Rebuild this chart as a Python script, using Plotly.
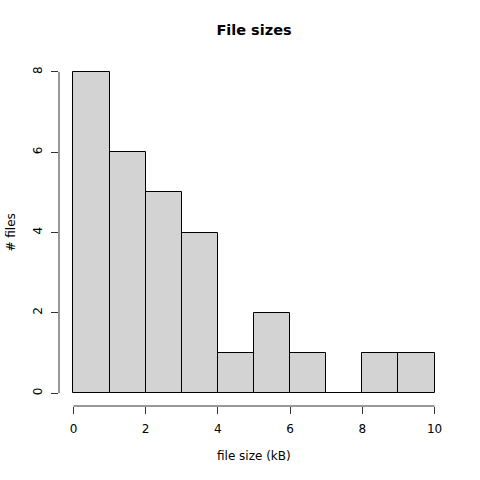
import numpy as np
import plotly.graph_objects as go

bin_edges = [0, 1, 2, 3, 4, 5, 6, 7, 8, 9, 10]
counts = [8, 6, 5, 4, 1, 2, 1, 0, 1, 1]
x_ticks = [0, 2, 4, 6, 8, 10]
y_ticks = [0, 2, 4, 6, 8]

edges = np.array(bin_edges, dtype=float)
centers = (edges[:-1] + edges[1:]) / 2
widths = np.diff(edges)

W = H = 480
ml, mr, mt, mb = 59, 30.5, 59, 74

fig = go.Figure(go.Bar(
    x=centers, y=counts, width=widths,
    marker=dict(color="#D3D3D3", line=dict(color="black", width=1)),
))

font = dict(family="DejaVu Sans", size=12, color="black")
xr = [edges[0] - 0.04 * (edges[-1] - edges[0]), edges[-1] + 0.04 * (edges[-1] - edges[0])]
ymax = max(counts)
yr = [-0.04 * ymax, ymax * 1.04]

fig.update_layout(
    width=W, height=H,
    margin=dict(l=ml, r=mr, t=mt, b=mb),
    plot_bgcolor="white", paper_bgcolor="white",
    showlegend=False, bargap=0,
    font=font,
    xaxis=dict(range=xr, tickvals=x_ticks, ticks="outside", ticklen=7,
               tickcolor="#333", tickwidth=1, showgrid=False, zeroline=False,
               showline=False, tickfont=font, fixedrange=True, automargin=False,
               ticklabelstandoff=5),
    yaxis=dict(range=yr, tickvals=y_ticks, ticks="outside", ticklen=7,
               tickcolor="#333", tickwidth=1, showgrid=False, zeroline=False,
               showline=False, tickangle=-90, tickfont=font, fixedrange=True,
               automargin=False, ticklabelstandoff=4),
    title=dict(text="<b>File sizes</b>", x=0.5, xref="paper", xanchor="center",
               y=1 - 30 / H, yanchor="middle",
               font=dict(family="DejaVu Sans", size=14.5, color="black")),
)

# R-style axis lines spanning only the tick range
fig.add_shape(type="line", xref="x", yref="paper", x0=x_ticks[0], x1=x_ticks[-1],
              y0=0, y1=0, line=dict(color="#333", width=1))
fig.add_shape(type="line", xref="paper", yref="y", x0=0, x1=0,
              y0=y_ticks[0], y1=y_ticks[-1], line=dict(color="#333", width=1))

fig.add_annotation(text="file size (kB)", xref="paper", yref="paper",
                   x=0.5, y=-(456 - 406) / (H - mt - mb), xanchor="center", yanchor="middle",
                   showarrow=False, font=font)
fig.add_annotation(text="# files", xref="paper", yref="paper",
                   x=-(ml - 10) / (W - ml - mr), y=0.5, xanchor="center", yanchor="middle",
                   textangle=-90, showarrow=False, font=font)

fig.write_html("out.html", config={"displayModeBar": False})
with open("out.html", "r", encoding="utf-8") as f:
    html = f.read()
html = html.replace("<body>", '<body style="margin:0;padding:0">', 1)
html = html.replace("<head>", '<head><style>html,body{margin:0;padding:0;}</style>', 1)
with open("out.html", "w", encoding="utf-8") as f:
    f.write(html)
